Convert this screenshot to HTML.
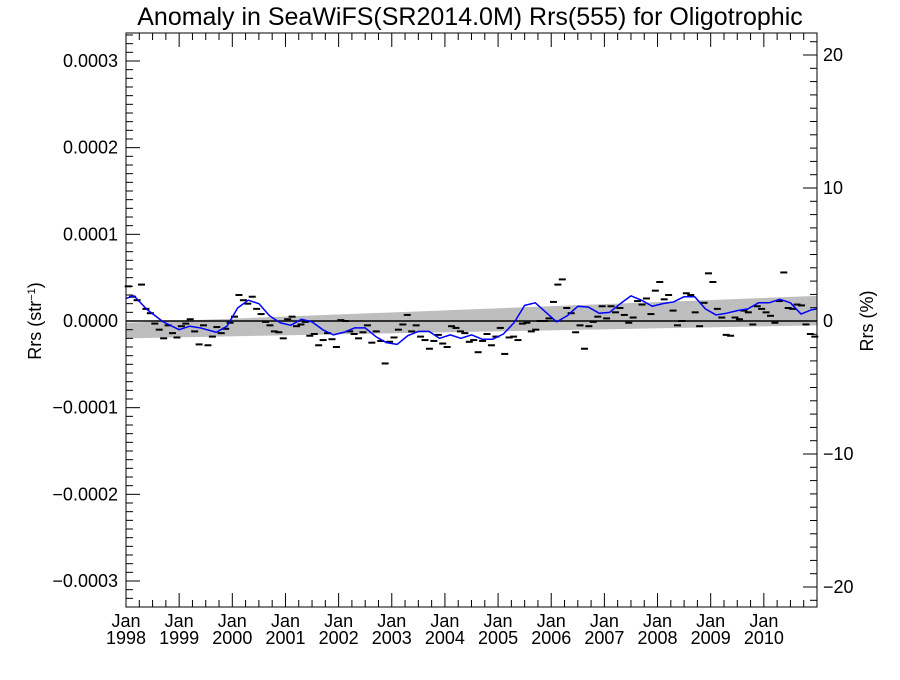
<!DOCTYPE html>
<html><head><meta charset="utf-8"><style>
body{margin:0;background:#fff;}
svg text{font-family:"Liberation Sans",sans-serif;fill:#000;}
</style></head><body>
<svg id="c" width="900" height="675"></svg>
<script>
const yearLabels=["1998","1999","2000","2001","2002","2003","2004","2005","2006","2007","2008","2009","2010"];
const leftTicks=[-0.0003,-0.0002,-0.0001,0,0.0001,0.0002,0.0003];
const leftTickLabels=["\u22120.0003","\u22120.0002","\u22120.0001","0.0000","0.0001","0.0002","0.0003"];
const rightTicks=[-20,-10,0,10,20];
const rightTickLabels=["\u221220","\u221210","0","10","20"];
// monthly anomalies, units 1e-6 sr^-1, Jan 1998 .. Dec 2010
const monthly=[
 40,28,24,42,14,9,-3,-10,-20,-5,-14,-19,
 -6,-3,2,-12,-27,-5,-28,-18,-7,-14,-9,-2,
 5,30,24,20,28,14,8,-1,-5,-12,-13,-20,
 2,5,-6,-4,-1,-17,-15,-28,-22,-14,-21,-30,
 1,0,-12,-15,-20,-13,-5,-25,-12,-23,-49,-24,
 -19,-10,-4,7,-12,-5,-18,-22,-32,-23,-16,-26,
 -30,-6,-8,-12,-14,-24,-22,-36,-23,-15,-28,-18,
 -8,-38,-19,-18,-22,-3,-2,-12,-10,0,0,3,
 22,42,48,15,9,-13,-5,-32,-6,-1,5,17,
 3,17,10,15,7,-2,4,23,19,26,8,35,
 45,25,30,12,-5,0,32,30,10,-6,21,55,
 45,14,4,-16,-17,4,2,12,10,-4,17,14,
 10,6,-2,23,56,15,14,19,18,-4,-15,-18];
const smoothX=[1998.0,1998.15,1998.4,1998.7,1999.0,1999.2,1999.4,1999.7,1999.9,2000.1,2000.3,2000.5,2000.7,2000.9,2001.1,2001.3,2001.5,2001.7,2001.9,2002.1,2002.3,2002.5,2002.7,2002.9,2003.1,2003.3,2003.5,2003.7,2003.9,2004.1,2004.3,2004.5,2004.7,2004.9,2005.1,2005.3,2005.5,2005.7,2005.9,2006.1,2006.3,2006.5,2006.7,2006.9,2007.1,2007.3,2007.5,2007.7,2007.9,2008.1,2008.3,2008.5,2008.7,2008.9,2009.1,2009.3,2009.5,2009.7,2009.9,2010.1,2010.3,2010.5,2010.7,2010.9,2011.0];
const smoothY=[26,29,13,-1,-10,-6,-8,-13,-6,15,24,20,6,-2,-5,2,-1,-10,-16,-13,-8,-8,-18,-25,-27,-17,-12,-12,-20,-16,-20,-16,-21,-21,-15,-2,18,21,10,-1,6,17,16,9,10,20,29,24,17,20,22,28,28,14,7,9,12,14,21,21,25,21,8,13,14];
const bandX=[1998,2011];
const bandLow=[-20,-5];
const bandHigh=[-2,29];

const L=126,R=817,T=33,B=607;
const xS=t=>L+(t-1998)/13*(R-L);
const yS=v=>321-v*866700;
const yU=u=>yS(u*1e-6);
const yP=p=>321-p*13.3;
const svg=document.getElementById('c');
const NS='http://www.w3.org/2000/svg';
function mk(tag,at,parent){const e=document.createElementNS(NS,tag);for(const k in at)e.setAttribute(k,at[k]);(parent||svg).appendChild(e);return e;}

let t=mk('text',{x:470,y:25,'text-anchor':'middle','font-size':25});
t.textContent='Anomaly in SeaWiFS(SR2014.0M) Rrs(555) for Oligotrophic';



const bp=`M${xS(bandX[0])},${yU(bandHigh[0])} L${xS(bandX[1])},${yU(bandHigh[1])} L${xS(bandX[1])},${yU(bandLow[1])} L${xS(bandX[0])},${yU(bandLow[0])} Z`;
let band=mk('path',{d:bp,fill:'#bebebe'});


let zl=mk('line',{x1:L,x2:R,y1:yS(0),y2:yS(0),stroke:'#000','stroke-width':1.5});



const g=mk('g',{});


monthly.forEach((v,i)=>{const x=xS(1998+(i+0.5)/12);const l=mk('line',{x1:x-3.5,x2:x+3.5,y1:yU(v),y2:yU(v),stroke:'#000','stroke-width':2},g);

});

let sm=mk('polyline',{points:smoothX.map((x,i)=>xS(x)+','+yU(smoothY[i])).join(' '),fill:'none',stroke:'#0000ff','stroke-width':1.5,'stroke-linejoin':'round'});



let fr=mk('rect',{x:L,y:T,width:R-L,height:B-T,fill:'none',stroke:'#000','stroke-width':1});



for(let k=-33;k<=33;k++){const y=yS(k*1e-5);const big=k%10===0;mk('line',{x1:L,x2:L+(big?14:7),y1:y,y2:y,stroke:'#000'});}
leftTicks.forEach((v,i)=>{const e=mk('text',{x:L-8,y:yS(v)+6,'text-anchor':'end','font-size':18});e.textContent=leftTickLabels[i];

});
for(let k=-21;k<=21;k++){const y=yP(k);const big=k%10===0;mk('line',{x1:R,x2:R-(big?14:7),y1:y,y2:y,stroke:'#000'});}
rightTicks.forEach((v,i)=>{const e=mk('text',{x:R+6,y:yP(v)+6,'font-size':18});e.textContent=rightTickLabels[i];

});
for(let q=0;q<52;q++){const x=xS(1998+q/4);const big=q%4===0;mk('line',{x1:x,x2:x,y1:B,y2:B-(big?14:7),stroke:'#000'});mk('line',{x1:x,x2:x,y1:T,y2:T+(big?14:7),stroke:'#000'});}
yearLabels.forEach((yr,i)=>{const x=xS(1998+i);
const a=mk('text',{x:x,y:627,'text-anchor':'middle','font-size':18});a.textContent='Jan';


const b=mk('text',{x:x,y:644,'text-anchor':'middle','font-size':18});b.textContent=yr;

});

let yl=mk('text',{transform:'translate(41,321) rotate(-90)','text-anchor':'middle','font-size':18});
yl.innerHTML='Rrs (str<tspan dy="-6" font-size="11">\u22121</tspan><tspan dy="6">)</tspan>';


let yr2=mk('text',{transform:'translate(873,321) rotate(-90)','text-anchor':'middle','font-size':18});
yr2.textContent='Rrs (%)';


</script>
</body></html>
